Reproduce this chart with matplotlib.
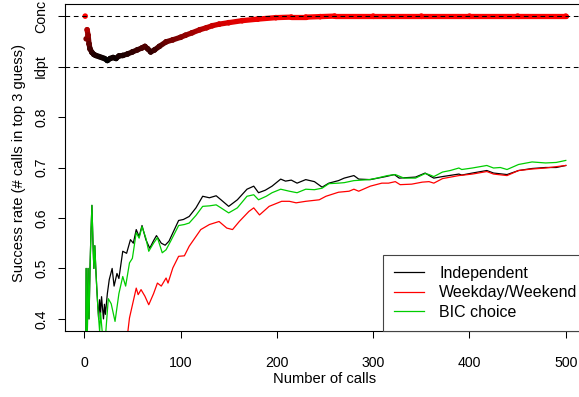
import numpy as np
import matplotlib
matplotlib.use("Agg")
import matplotlib.pyplot as plt
from matplotlib.collections import LineCollection
from matplotlib.colors import LinearSegmentedColormap, Normalize

plt.rcParams['font.family'] = ['Liberation Sans', 'DejaVu Sans']

# proportion of "Conc" choice, drawn between Idpt (0.9) and Conc (1.0)
conc_x = [1, 2, 3, 4, 5, 6, 8, 10, 12, 15, 18, 21, 24, 27, 30, 33, 36, 40,
          45, 50, 55, 60, 63, 66, 69, 73, 78, 85, 92, 100, 105, 112, 120, 127,
          133, 140, 150, 164, 180, 199, 215, 230, 245, 260, 300, 350, 400, 450, 500]
conc_y = [1.0, 0.955, 0.973, 0.962, 0.945, 0.935, 0.928, 0.924, 0.922, 0.92,
          0.918, 0.916, 0.912, 0.916, 0.918, 0.916, 0.921, 0.922, 0.925, 0.929,
          0.933, 0.937, 0.940, 0.935, 0.929, 0.933, 0.940, 0.949, 0.953, 0.958,
          0.962, 0.967, 0.973, 0.977, 0.981, 0.984, 0.987, 0.991, 0.994, 0.997,
          0.998, 0.998, 0.999, 1.0, 1.0, 1.0, 1.0, 1.0, 1.0]

# success rates
green_x = [1, 2, 3, 4, 5, 6, 7, 8, 9, 10, 11, 12, 13, 14, 15, 16, 17, 18, 19, 20,
           22, 25, 28, 32, 36, 40, 43, 47, 50, 54, 57, 60, 64, 67, 72, 76, 81, 85,
           90, 98, 104, 109, 116, 123, 130, 137, 142, 150, 159, 169, 176, 181, 189,
           195, 204, 213, 221, 230, 239, 247, 254, 264, 270, 280, 296, 304, 315,
           323, 332, 344, 354, 358, 363, 372, 380, 389, 392, 403, 418, 425, 432,
           439, 451, 465, 479, 490, 500]
green_y = [0.0, 0.5, 0.333, 0.5, 0.4, 0.5, 0.571, 0.625, 0.556, 0.5, 0.545, 0.5,
           0.462, 0.429, 0.4, 0.375, 0.412, 0.389, 0.368, 0.35, 0.364, 0.44, 0.43,
           0.395, 0.45, 0.484, 0.465, 0.511, 0.52, 0.571, 0.56, 0.583, 0.56, 0.534,
           0.55, 0.561, 0.531, 0.537, 0.555, 0.585, 0.587, 0.59, 0.605, 0.623,
           0.624, 0.626, 0.62, 0.61, 0.62, 0.643, 0.646, 0.636, 0.643, 0.65, 0.657,
           0.653, 0.65, 0.657, 0.656, 0.659, 0.668, 0.669, 0.67, 0.674, 0.676,
           0.679, 0.684, 0.686, 0.679, 0.679, 0.688, 0.686, 0.682, 0.691, 0.694,
           0.699, 0.696, 0.699, 0.704, 0.699, 0.700, 0.696, 0.706, 0.711, 0.709,
           0.710, 0.714]

black_x = [1, 2, 3, 4, 5, 6, 7, 8, 9, 10, 11, 12, 13, 14, 15, 16, 17, 18, 19, 20,
           21, 22, 24, 26, 29, 31, 34, 36, 40, 44, 48, 51, 54, 57, 60, 64, 68, 72,
           75, 80, 84, 88, 98, 103, 109, 116, 123, 130, 137, 142, 150, 159, 169,
           176, 181, 188, 195, 204, 209, 215, 221, 230, 239, 247, 254, 264, 270,
           280, 285, 297, 313, 322, 327, 344, 354, 360, 363, 372, 389, 392, 403,
           418, 425, 439, 451, 465, 479, 490, 500]
black_y = [0.0, 0.5, 0.333, 0.5, 0.4, 0.5, 0.571, 0.625, 0.556, 0.5, 0.545, 0.5,
           0.462, 0.429, 0.4, 0.438, 0.412, 0.444, 0.421, 0.40, 0.429, 0.409, 0.45,
           0.478, 0.50, 0.465, 0.49, 0.48, 0.534, 0.53, 0.557, 0.55, 0.577, 0.563,
           0.585, 0.557, 0.54, 0.555, 0.565, 0.55, 0.546, 0.554, 0.595, 0.597,
           0.603, 0.62, 0.643, 0.640, 0.644, 0.636, 0.623, 0.636, 0.657, 0.663,
           0.65, 0.655, 0.663, 0.677, 0.673, 0.675, 0.669, 0.676, 0.672, 0.661,
           0.669, 0.674, 0.679, 0.684, 0.677, 0.676, 0.682, 0.686, 0.679, 0.681,
           0.689, 0.682, 0.679, 0.682, 0.687, 0.685, 0.689, 0.694, 0.689, 0.686,
           0.694, 0.698, 0.700, 0.700, 0.704]

red_x = [45, 47, 54, 56, 59, 63, 67, 72, 76, 80, 85, 87, 92, 98, 104, 109, 121,
         130, 140, 148, 154, 161, 171, 176, 182, 192, 205, 213, 220, 230, 244,
         251, 264, 275, 280, 285, 297, 309, 316, 323, 328, 340, 351, 358, 363,
         372, 389, 403, 418, 425, 439, 451, 465, 479, 500]
red_y = [0.37, 0.402, 0.461, 0.448, 0.458, 0.445, 0.428, 0.45, 0.471, 0.465,
         0.481, 0.471, 0.501, 0.524, 0.525, 0.544, 0.577, 0.587, 0.593, 0.58,
         0.577, 0.593, 0.613, 0.62, 0.606, 0.623, 0.633, 0.633, 0.63, 0.633,
         0.636, 0.643, 0.651, 0.653, 0.657, 0.653, 0.663, 0.669, 0.669, 0.672,
         0.666, 0.667, 0.671, 0.672, 0.669, 0.678, 0.684, 0.687, 0.692, 0.687,
         0.684, 0.694, 0.697, 0.699, 0.704]

series_names = ['Independent', 'Weekday/Weekend', 'BIC choice']
series_cols = ['black', '#FF0000', '#00CD00']

ytick_vals = [0.4, 0.5, 0.6, 0.7, 0.8, 0.9, 1.0]
ytick_labs = ['0.4', '0.5', '0.6', '0.7', '0.8', 'Idpt', 'Conc']
xtick_vals = [0, 100, 200, 300, 400, 500]

W, H = 579, 397
fig = plt.figure(figsize=(W / 100, H / 100), dpi=100)
ax = fig.add_axes([65 / W, 1 - 331 / H, 520 / W, 327 / H])

# gradient band black -> red (first few dots stand apart)
cmap = LinearSegmentedColormap.from_list('br', ['#000000', '#FF0000'])
norm = Normalize(min(conc_y), max(conc_y))
cx = np.array(conc_x, float)
cy = np.array(conc_y, float)
pts = np.column_stack([cx, cy]).reshape(-1, 1, 2)
segs = np.concatenate([pts[:-1], pts[1:]], axis=1)
keep = cx[:-1] >= 3
segs = segs[keep]
seg_cols = cmap(norm(((cy[:-1] + cy[1:]) / 2)[keep]))
lc = LineCollection(segs, colors=seg_cols, linewidths=3.8,
                    capstyle='round', joinstyle='round')
ax.add_collection(lc)
ax.scatter(cx, cy, c=cmap(norm(cy)), s=16, linewidths=0, zorder=2)

for yv in [0.9, 1.0]:
    ax.axhline(yv, color='black', lw=0.75, ls=(0, (4.5, 3.5)), zorder=3)

ax.plot(black_x, black_y, color=series_cols[0], lw=0.9, label=series_names[0], zorder=4)
ax.plot(red_x, red_y, color=series_cols[1], lw=0.9, label=series_names[1], zorder=4)
ax.plot(green_x, green_y, color=series_cols[2], lw=0.9, label=series_names[2], zorder=4)

ax.set_xlim(-19.96, 519.96)
ax.set_ylim(0.376, 1.024)
ax.set_xticks(xtick_vals)
ax.set_yticks(ytick_vals)
ax.set_yticklabels(ytick_labs, rotation=90, va='center')
ax.tick_params(axis='both', direction='out', length=4.7, width=0.75,
               labelsize=10.2, color='black')
ax.tick_params(axis='x', pad=13.5)
ax.tick_params(axis='y', pad=7.5)
for sp in ax.spines.values():
    sp.set_linewidth(0.8)
    sp.set_color('black')

leg = ax.legend(loc='lower left', bbox_to_anchor=(0.611, 0.0), borderaxespad=0,
                fancybox=False, framealpha=1, edgecolor='#444444', fontsize=11.5,
                handlelength=1.9, handletextpad=0.95, borderpad=0.7,
                labelspacing=0.28)
leg.get_frame().set_linewidth(0.8)
leg.set_zorder(5)

fig.text(325 / W, 1 - 379 / H, 'Number of calls', ha='center', va='center', fontsize=10.6)
fig.text(19 / W, 1 - 163 / H, 'Success rate (# calls in top 3 guess)', ha='center',
         va='center', rotation=90, fontsize=10.6)

fig.savefig('out.png', dpi=100)
